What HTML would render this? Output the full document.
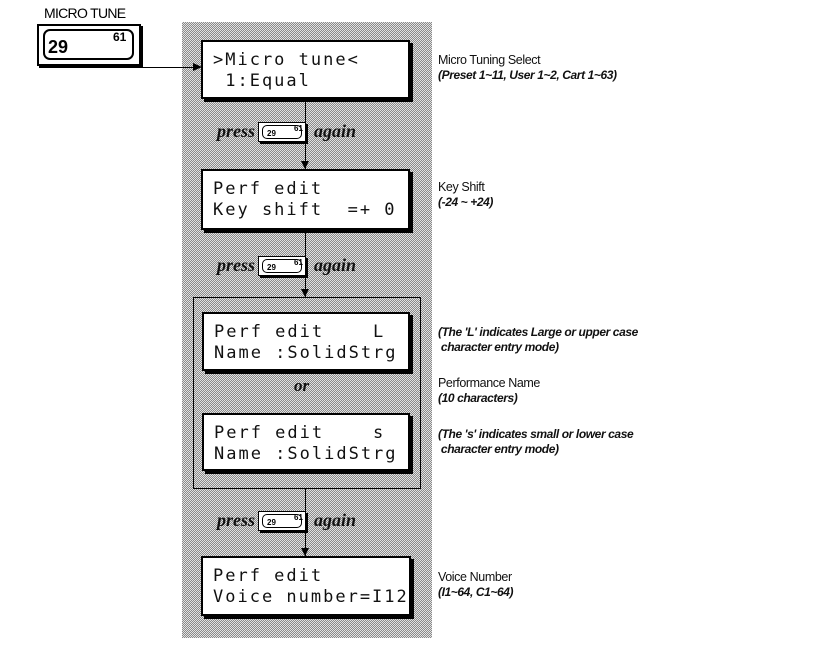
<!DOCTYPE html>
<html><head><meta charset="utf-8"><style>
body{margin:0;width:817px;height:661px;background:#fff;position:relative;overflow:hidden;font-family:"Liberation Sans",sans-serif}
.a{position:absolute}
.panel{left:182px;top:22px;width:250px;height:616px;background:repeating-conic-gradient(#8a8a8a 0 25%,#e2e2e2 0 50%) 0 0/2px 2px}
.lcd{position:absolute;background:#fff;border:2px solid #000;box-shadow:3px 3px 0 #000;font-family:"DejaVu Sans Mono","Liberation Mono",monospace;font-size:17px;letter-spacing:2px;line-height:21px;padding:8px 0 0 10px;box-sizing:border-box;white-space:pre;color:#111}
.vl{position:absolute;width:1px;background:#000}
.arr{position:absolute;width:0;height:0;border-left:4px solid transparent;border-right:4px solid transparent;border-top:8px solid #000}
.pr{position:absolute;font-family:"Liberation Serif",serif;font-style:italic;font-weight:bold;font-size:18px;color:#111}
.btn{position:absolute;width:46px;height:18px;background:#fff;border:1px solid #000;box-shadow:2px 2px 0 #000}
.btn i{position:absolute;left:3px;top:2px;right:3px;bottom:2px;border:1.5px solid #000;border-radius:5px}
.btn b{position:absolute;font-size:8px;font-family:"Liberation Sans",sans-serif}
.t{position:absolute;font-size:12.5px;line-height:15px;color:#111;letter-spacing:-0.4px}
.t em{font-style:italic;font-weight:bold;font-size:12px}
</style></head><body>
<div class="a panel"></div>
<div class="a" style="left:44px;top:5px;font-size:14px;letter-spacing:-0.7px">MICRO TUNE</div>
<div class="a" style="left:37px;top:24px;width:100px;height:38px;border:2px solid #000;background:#fff;box-shadow:2px 2px 0 #000"></div>
<div class="a" style="left:43px;top:29px;width:87px;height:27px;border:2px solid #000;border-radius:7px"></div>
<div class="a" style="left:48px;top:37px;font-size:18px;font-weight:bold">29</div>
<div class="a" style="left:113px;top:30px;font-size:12px;font-weight:bold">61</div>
<div class="a" style="left:140px;top:67px;width:57px;height:1px;background:#000"></div>
<div class="a" style="left:193px;top:63px;border-top:4px solid transparent;border-bottom:4px solid transparent;border-left:9px solid #000"></div>

<div class="lcd" style="left:201px;top:40px;width:209px;height:59px">&gt;Micro tune&lt;
 1:Equal</div>
<div class="vl" style="left:305px;top:101px;height:68px"></div>
<div class="arr" style="left:301px;top:161px"></div>
<div class="pr" style="left:217px;top:121px">press</div>
<div class="btn" style="left:258px;top:122px"><i></i><b style="left:8px;top:6px">29</b><b style="left:35px;top:1px">61</b></div>
<div class="pr" style="left:314px;top:121px">again</div>

<div class="lcd" style="left:201px;top:169px;width:209px;height:61px">Perf edit
Key shift  =+ 0</div>
<div class="vl" style="left:305px;top:232px;height:65px"></div>
<div class="arr" style="left:301px;top:289px"></div>
<div class="pr" style="left:217px;top:255px">press</div>
<div class="btn" style="left:258px;top:256px"><i></i><b style="left:8px;top:6px">29</b><b style="left:35px;top:1px">61</b></div>
<div class="pr" style="left:314px;top:255px">again</div>

<div class="a" style="left:193px;top:297px;width:226px;height:190px;border:1px solid #000"></div>
<div class="lcd" style="left:202px;top:312px;width:208px;height:59px">Perf edit    L
Name :SolidStrg</div>
<div class="pr" style="left:294px;top:376px;font-size:17px">or</div>
<div class="lcd" style="left:202px;top:413px;width:208px;height:58px">Perf edit    s
Name :SolidStrg</div>
<div class="vl" style="left:305px;top:488px;height:68px"></div>
<div class="arr" style="left:301px;top:548px"></div>
<div class="pr" style="left:217px;top:510px">press</div>
<div class="btn" style="left:258px;top:511px"><i></i><b style="left:8px;top:6px">29</b><b style="left:35px;top:1px">61</b></div>
<div class="pr" style="left:314px;top:510px">again</div>

<div class="lcd" style="left:201px;top:556px;width:210px;height:60px">Perf edit
Voice number=I12</div>

<div class="t" style="left:438px;top:53px">Micro Tuning Select<br><em>(Preset 1~11, User 1~2, Cart 1~63)</em></div>
<div class="t" style="left:438px;top:180px">Key Shift<br><em>(-24 ~ +24)</em></div>
<div class="t" style="left:438px;top:325px"><em>(The 'L' indicates Large or upper case<br>&nbsp;character entry mode)</em></div>
<div class="t" style="left:438px;top:376px">Performance Name<br><em>(10 characters)</em></div>
<div class="t" style="left:438px;top:427px"><em>(The 's' indicates small or lower case<br>&nbsp;character entry mode)</em></div>
<div class="t" style="left:438px;top:570px">Voice Number<br><em>(I1~64, C1~64)</em></div>
</body></html>
